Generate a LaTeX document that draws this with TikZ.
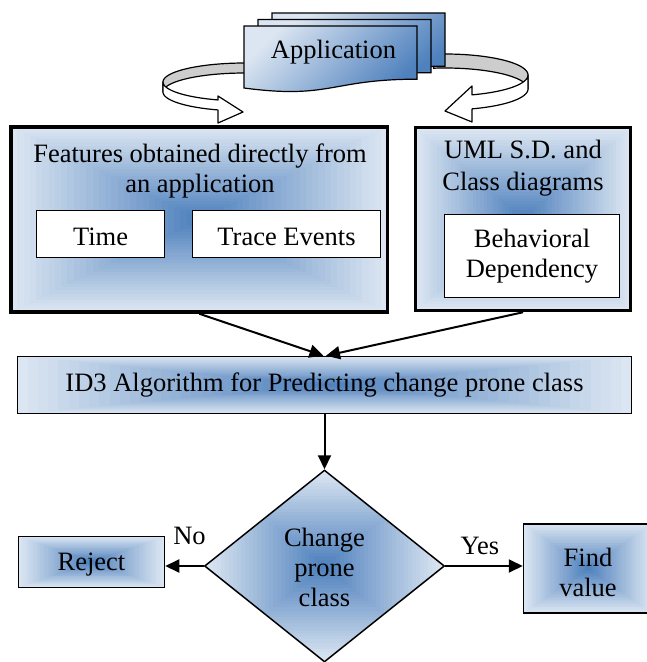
\documentclass[tikz,border=0pt]{standalone}
\usepackage{fontspec}
\setmainfont{Liberation Serif}
\usetikzlibrary{arrows.meta,shapes.geometric,calc}
\definecolor{lightb}{RGB}{220,230,242}
\definecolor{darkb}{RGB}{79,129,189}
\definecolor{ribbon}{RGB}{205,205,205}
\tikzset{
  rgrad/.style={path picture={
    \foreach \i in {0,...,29}{
      \pgfmathsetmacro\fr{1-\i/30}
      \pgfmathsetmacro\pc{100*\i/29}
      \fill[darkb!\pc!lightb]
        ($(path picture bounding box.center)!\fr!(path picture bounding box.south west)$)
        rectangle
        ($(path picture bounding box.center)!\fr!(path picture bounding box.north east)$);
    }}},
  txt/.style={font=\fontsize{26.5}{30}\selectfont, align=center},
  bigbox/.style={draw, line width=3.5pt, rgrad, inner sep=0pt},
  whitebox/.style={draw, line width=1.5pt, fill=white, inner sep=0pt, txt},
  gradbox/.style={draw, line width=1.5pt, rgrad, inner sep=0pt, txt},
  decision/.style={diamond, draw, line width=1.5pt, rgrad, inner sep=0pt, txt},
  conn/.style={line width=2pt, -{Triangle[length=14pt,width=13pt]}},
  ribbonback/.style={fill=ribbon, draw, line width=1.2pt, line join=round},
  ribbonfront/.style={fill=white, draw, line width=1.2pt, line join=round},
  docpage/.style={draw, line width=1.2pt, shading=axis, top color=lightb, bottom color=darkb, shading angle=45},
  lbl/.style={font=\fontsize{26.5}{30}\selectfont, inner sep=0pt},
}
\begin{document}
\begin{tikzpicture}[x=1pt,y=-1pt]
\useasboundingbox (0,0) rectangle (646,662);
% back parts of the curved arrows
\draw[ribbonback] plot[domain=280:180,samples=40] ({245+82*cos(\x)},{82+19*sin(\x)})
  -- plot[domain=180:280,samples=40] ({245+82*cos(\x)},{92+19*sin(\x)}) -- cycle;
\draw[ribbonback] plot[domain=262:360,samples=40] ({445+83*cos(\x)},{75+21*sin(\x)})
  -- plot[domain=360:262,samples=40] ({445+83*cos(\x)},{89+21*sin(\x)}) -- cycle;
% multi-document
\foreach \dx/\dy in {28/13, 14/19.5, 0/26}{
  \draw[docpage, shift={(244+\dx,\dy)}] (0,0) -- (173,0) -- (173,53.2)
    .. controls (86.5,53.2) and (86.5,73.5) .. (0,62) -- cycle;
}
\node[txt, inner sep=0pt] (app) at (333.5,52.3) {Application};
% front parts of the curved arrows
\draw[ribbonfront] plot[domain=180:109.2,samples=40] ({245+82*cos(\x)},{82+19*sin(\x)})
  -- (218,96) -- (243,112) -- (218,123)
  -- plot[domain=109.2:180,samples=40] ({245+82*cos(\x)},{92+19*sin(\x)}) -- cycle;
\draw[ribbonfront] plot[domain=0:71,samples=40] ({445+83*cos(\x)},{75+21*sin(\x)})
  -- (472,86) -- (445,111) -- (472,122)
  -- plot[domain=71:0,samples=40] ({445+83*cos(\x)},{89+21*sin(\x)}) -- cycle;
% feature boxes
\node[bigbox, minimum width=376.5, minimum height=185] (feat) at (199.25,219.5) {};
\node[txt, inner sep=0pt] (feattxt) at (200,171) {Features obtained directly from\\an application};
\node[whitebox, text height=22pt, text depth=0pt, minimum width=128, minimum height=47] (time) at (100.5,234) {Time};
\node[whitebox, text height=22pt, text depth=0pt, minimum width=188, minimum height=47] (trace) at (286.5,234) {Trace Events};
\node[bigbox, minimum width=215, minimum height=183] (uml) at (523,219) {};
\node[txt, inner sep=0pt] (umltxt) at (523,168) {UML S.D. and\\[2pt]Class diagrams};
\node[whitebox, minimum width=175, minimum height=83] (beh) at (532,256) {Behavioral\\Dependency};
% algorithm and decision
\node[gradbox, minimum width=614, minimum height=57] (id3) at (324.5,385) {ID3 Algorithm for Predicting change prone class};
\node[decision, minimum width=240, minimum height=192] (dec) at (324.5,566) {\rule{0pt}{22pt}Change\\prone\\class};
\node[gradbox, minimum width=146, minimum height=51] (rej) at (91.5,562) {\rule{0pt}{22pt}Reject};
\node[gradbox, minimum width=129, minimum height=89] (find) at (588,568.5) {\rule{0pt}{26pt}Find\\value};
% connectors
\draw[conn] (feat.south) -- ([xshift=-1pt]id3.north);
\draw[conn] (uml.south) -- ([xshift=1.5pt]id3.north);
\draw[conn] (id3.south) -- (dec.north);
\draw[conn] (dec.west) -- node[lbl, above=20pt, xshift=5pt] (no) {No} (dec.west -| rej.east);
\draw[conn] (dec.east) -- node[lbl, above=10pt, xshift=-4pt] (yes) {Yes} (dec.east -| find.west);
\end{tikzpicture}
\end{document}
